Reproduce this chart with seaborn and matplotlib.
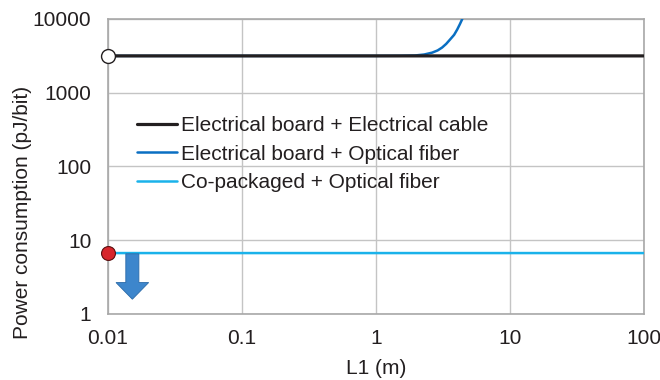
import matplotlib
matplotlib.use("Agg")
import matplotlib.pyplot as plt
import seaborn as sns
import pandas as pd
from matplotlib.patches import Polygon

# Link length L1 (m) and power consumption (pJ/bit) for each configuration
elec_cable_L = [0.01, 100]
elec_cable_P = [3160, 3160]

elec_fiber_L = [0.01, 1.0, 1.5, 1.96, 2.3, 2.64, 2.9, 3.13, 3.36, 3.6, 3.85, 4.06, 4.25, 4.43]
elec_fiber_P = [3160, 3160, 3170, 3200, 3300, 3500, 3750, 4100, 4600, 5300, 6100, 7200, 8500, 10000]

copackaged_L = [0.01, 100]
copackaged_P = [6.7, 6.7]

series_names = ["Electrical board + Electrical cable",
                "Electrical board + Optical fiber",
                "Co-packaged + Optical fiber"]
series_colors = ["#231f20", "#0a6fc2", "#1ab2ea"]

x_ticks = [0.01, 0.1, 1, 10, 100]
x_tick_labels = ["0.01", "0.1", "1", "10", "100"]
y_ticks = [1, 10, 100, 1000, 10000]
y_tick_labels = ["1", "10", "100", "1000", "10000"]

frames = [
    pd.DataFrame({"L1": elec_cable_L, "P": elec_cable_P, "series": series_names[0]}),
    pd.DataFrame({"L1": elec_fiber_L, "P": elec_fiber_P, "series": series_names[1]}),
    pd.DataFrame({"L1": copackaged_L, "P": copackaged_P, "series": series_names[2]}),
]
df = pd.concat(frames, ignore_index=True)

sns.set_style("white")
plt.rcParams["font.family"] = ["Liberation Sans", "DejaVu Sans"]

fig = plt.figure(figsize=(6.6, 3.8), dpi=100)
ax = fig.add_axes([0.1636, 0.1737, 0.8114, 0.7763])

widths = {series_names[0]: 2.3, series_names[1]: 1.8, series_names[2]: 1.8}
zorders = {series_names[0]: 4, series_names[1]: 3, series_names[2]: 4}
for name, color in zip(series_names, series_colors):
    sub = df[df["series"] == name]
    sns.lineplot(data=sub, x="L1", y="P", ax=ax, color=color,
                 linewidth=widths[name], label=name, zorder=zorders[name],
                 estimator=None, sort=False, snap=False)

ax.set_xscale("log")
ax.set_yscale("log")
ax.set_xlim(0.01, 100)
ax.set_ylim(1, 10000)

# Endpoint markers at the shortest length
ax.plot([elec_cable_L[0]], [elec_cable_P[0]], marker="o", markersize=10,
        markerfacecolor="white", markeredgecolor="#231f20", markeredgewidth=1.0,
        zorder=6, clip_on=False)
ax.plot([copackaged_L[0]], [copackaged_P[0]], marker="o", markersize=10,
        markerfacecolor="#d7262c", markeredgecolor="#5a1010", markeredgewidth=0.8,
        zorder=6, clip_on=False)

# Downward arrow below the co-packaged line (axes-fraction coordinates)
cx = 0.0455
shaft = 0.0122
head = 0.0305
arrow = Polygon([
    (cx - shaft, 0.204), (cx + shaft, 0.204),
    (cx + shaft, 0.1066), (cx + head, 0.1066),
    (cx, 0.05), (cx - head, 0.1066), (cx - shaft, 0.1066)
], closed=True, transform=ax.transAxes, facecolor="#3d86cc",
    edgecolor="#2a6aa8", linewidth=0.6, zorder=5)
ax.add_patch(arrow)

ax.xaxis.set_major_locator(matplotlib.ticker.FixedLocator(x_ticks))
ax.xaxis.set_minor_locator(matplotlib.ticker.NullLocator())
ax.set_xticklabels(x_tick_labels)
ax.yaxis.set_major_locator(matplotlib.ticker.FixedLocator(y_ticks))
ax.yaxis.set_minor_locator(matplotlib.ticker.NullLocator())
ax.set_yticklabels(y_tick_labels)
ax.tick_params(axis="both", length=0, labelsize=15, colors="#231f20")
ax.tick_params(axis="x", pad=10.5)
ax.tick_params(axis="y", pad=12)

ax.grid(True, which="major", color="#c4c4c4", linewidth=1.0)
for side in ["left", "bottom", "right", "top"]:
    ax.spines[side].set_color("#a8a8a8")
    ax.spines[side].set_linewidth(1.2)

ax.set_xlabel("L1 (m)", fontsize=15, color="#231f20", labelpad=8)
ax.set_ylabel("Power consumption (pJ/bit)", fontsize=15, color="#231f20")
ax.yaxis.set_label_coords(-0.142, 0.345)

leg = ax.legend(loc="upper left", bbox_to_anchor=(0.039, 0.70), frameon=False,
                fontsize=15, handlelength=1.92, handletextpad=0.2,
                labelspacing=0.47, borderaxespad=0)
for t in leg.get_texts():
    t.set_color("#231f20")

fig.savefig("out.png", dpi=100)
